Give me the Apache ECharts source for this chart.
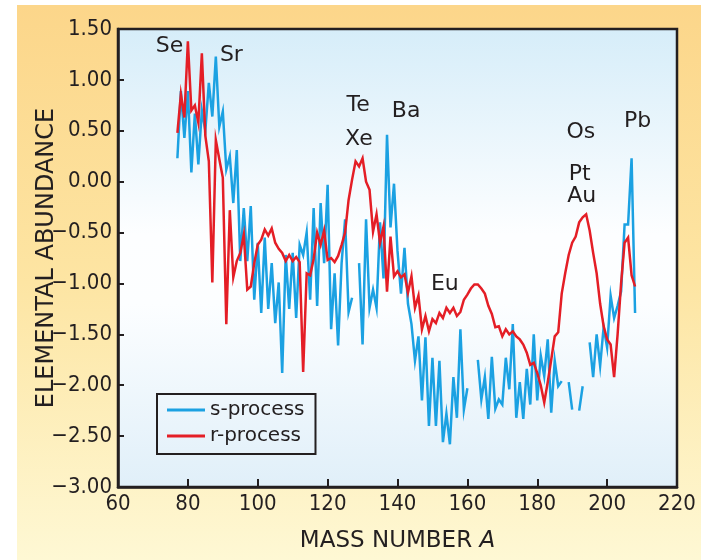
<!DOCTYPE html>
<html>
<head>
<meta charset="utf-8">
<script src="https://cdn.jsdelivr.net/npm/echarts@6/dist/echarts.min.js"></script>
<style>
html,body{margin:0;padding:0;background:#fff;}
#wrap{position:relative;width:701px;height:560px;overflow:hidden;background:#fff;}
#bg{position:absolute;left:17px;top:5px;right:0;bottom:0;background:linear-gradient(to bottom,#fcd68a 0%,#fde5a3 50%,#fef8d4 100%);}
#chart{position:absolute;left:0;top:0;width:701px;height:560px;}
</style>
</head>
<body>
<div id="wrap"><div id="bg"></div><div id="chart"></div></div>
<script>
// Mass numbers A = 77 ... 208 (one point per mass number)
const massNumbers = [];
for (let a = 77; a <= 208; a++) massNumbers.push(a);

// s-process abundances (null = no data, gap in line)
const sProcess = [
  0.23, 0.89, 0.43, 0.89, 0.09, 0.67, 0.17, 0.70, 0.50, 0.97,      // 77-86
  0.64, 1.23, 0.54, 0.69, 0.12, 0.25, -0.21, 0.31, -0.78, -0.26,   // 87-96
  -0.78, -0.24, -1.16, -0.60, -1.29, -0.55, -1.25, -0.80, -1.39, -0.99, // 97-106
  -1.88, -0.72, -1.25, -0.70, -1.34, -0.62, -0.72, -0.50, -1.16, -0.26, // 107-116
  -1.22, -0.21, -0.80, -0.03, -1.45, -0.90, -1.61, -0.80, -0.37, -1.28, // 117-126
  -1.14, null, -0.80, -1.60, -0.37, -1.24, -1.06, -1.24, -0.40, -0.95,  // 127-136
  0.46, -0.45, -0.02, -0.68, -1.10, -0.65, -1.20, -1.40, -1.76, -1.52,  // 137-146
  -2.15, -1.53, -2.40, -1.73, -2.40, -1.76, -2.56, -2.28, -2.58, -1.92, // 147-156
  -2.32, -1.45, -2.24, -2.03, null, null, -1.75, -2.14, -1.92, -2.33,   // 157-166
  -1.72, -2.23, -2.14, -2.19, -1.73, -2.04, -1.40, -2.32, -1.97, -2.33, // 167-176
  -1.84, -2.19, -1.50, -2.15, -1.71, -1.91, -1.55, -2.27, -1.76, -2.01, // 177-186
  -1.96, null, -1.97, -2.24, null, -2.25, -2.01, null, -1.58, -1.92,    // 187-196
  -1.50, -1.81, -1.43, -1.63, -1.12, -1.34, -1.22, -1.08, -0.42, -0.42, // 197-206
  0.23, -1.29                                                           // 207-208
];

// r-process abundances
const rProcess = [
  0.48, 0.86, 0.63, 1.38, 0.70, 0.75, 0.58, 1.26, 0.45, 0.20,          // 77-86
  -0.99, 0.41, 0.22, 0.04, -1.40, -0.28, -0.94, -0.78, -0.70, -0.52,   // 87-96
  -1.06, -1.03, -0.80, -0.62, -0.57, -0.47, -0.53, -0.46, -0.60, -0.66, // 97-106
  -0.70, -0.78, -0.72, -0.78, -0.74, -0.79, -1.87, -0.90, -0.92, -0.76, // 107-116
  -0.50, -0.62, -0.48, -0.77, -0.75, -0.79, -0.73, -0.62, -0.50, -0.18, // 117-126
  0.02, 0.20, 0.15, 0.23, 0.00, -0.08, -0.49, -0.32, -0.60, -0.44,     // 127-136
  -1.08, -0.54, -0.93, -0.88, -0.94, -0.91, -1.09, -0.93, -1.24, -1.12, // 137-146
  -1.45, -1.32, -1.47, -1.35, -1.39, -1.29, -1.34, -1.24, -1.29, -1.24, // 147-156
  -1.32, -1.28, -1.16, -1.11, -1.05, -1.01, -1.01, -1.05, -1.10, -1.22, // 157-166
  -1.30, -1.43, -1.42, -1.52, -1.45, -1.50, -1.47, -1.52, -1.55, -1.60, // 167-176
  -1.68, -1.80, -1.78, -1.88, -2.00, -2.17, -1.97, -1.75, -1.52, -1.48, // 177-186
  -1.10, -0.90, -0.72, -0.60, -0.54, -0.40, -0.35, -0.32, -0.48, -0.70, // 187-196
  -0.90, -1.20, -1.42, -1.55, -1.60, -1.92, -1.50, -1.00, -0.60, -0.55, // 197-206
  -0.92, -1.03                                                          // 207-208
];

// Element annotations (label anchor in data coordinates)
const elementNames = ['Se', 'Sr', 'Te', 'Xe', 'Ba', 'Eu', 'Os', 'Pt', 'Au', 'Pb'];
const elementA     = [74.9, 92.6, 128.9, 129.1, 142.6, 153.7, 192.6, 192.3, 192.9, 208.9];
const elementV     = [1.33, 1.235, 0.745, 0.41, 0.69, -1.01, 0.48, 0.07, -0.15, 0.59];

const seriesNames = ['s-process', 'r-process'];
const seriesColors = ['#1ba1e2', '#e41e26'];

const xTicks = { min: 60, max: 220, interval: 20 };
const yTicks = { min: -3, max: 1.5, interval: 0.5 };

const INK = '#231f20';
const fmtY = v => (v < 0 ? '\u2212' : '') + Math.abs(v).toFixed(2);
const toPairs = vals => massNumbers.map((a, i) => [a, vals[i] === null ? '-' : vals[i]]);

const chart = echarts.init(document.getElementById('chart'), null, { renderer: 'canvas' });
chart.setOption({
  animation: false,
  backgroundColor: 'transparent',
  textStyle: { fontFamily: 'DejaVu Sans' },
  grid: {
    left: 118, right: 24, top: 29, bottom: 73,
    show: true, borderColor: INK, borderWidth: 2.5,
    backgroundColor: {
      type: 'linear', x: 0, y: 0, x2: 0, y2: 1,
      colorStops: [
        { offset: 0, color: '#d6edf9' },
        { offset: 0.45, color: '#fdfeff' },
        { offset: 0.6, color: '#fcfeff' },
        { offset: 1, color: '#e0eff9' }
      ]
    }
  },
  xAxis: {
    type: 'value', min: xTicks.min, max: xTicks.max, interval: xTicks.interval,
    axisLine: { show: true, onZero: false, lineStyle: { color: INK, width: 2.5 } },
    axisTick: { show: true, inside: true, length: 8, lineStyle: { color: INK, width: 2 } },
    splitLine: { show: false },
    axisLabel: { color: INK, fontFamily: 'DejaVu Sans Condensed, DejaVu Sans', fontSize: 22, margin: 6, showMinLabel: true, showMaxLabel: true },
    name: 'MASS NUMBER {i|A}', nameLocation: 'middle', nameGap: 43,
    nameTextStyle: {
      color: INK, fontSize: 23, fontFamily: 'DejaVu Sans',
      rich: { i: { fontStyle: 'italic', fontSize: 23, fontFamily: 'DejaVu Sans', color: INK } }
    }
  },
  yAxis: {
    type: 'value', min: yTicks.min, max: yTicks.max, interval: yTicks.interval,
    axisLine: { show: true, onZero: false, lineStyle: { color: INK, width: 2.5 } },
    axisTick: { show: true, inside: true, length: 6, lineStyle: { color: INK, width: 2 } },
    splitLine: { show: false },
    axisLabel: { color: INK, fontFamily: 'DejaVu Sans Condensed, DejaVu Sans', fontSize: 22, margin: 6, formatter: fmtY, showMinLabel: true, showMaxLabel: true },
    name: 'ELEMENTAL ABUNDANCE', nameLocation: 'middle', nameGap: 59, nameMoveOverlap: false,
    nameTextStyle: { color: INK, fontSize: 24, fontFamily: 'DejaVu Sans' }
  },
  legend: {
    data: seriesNames, orient: 'vertical', left: 157, top: 394,
    icon: 'rect', itemWidth: 38, itemHeight: 3, itemGap: 6,
    padding: [6, 11, 8, 10],
    borderColor: INK, borderWidth: 2, backgroundColor: 'transparent',
    textStyle: { fontSize: 20, color: INK, fontFamily: 'DejaVu Sans' }
  },
  series: [
    {
      name: seriesNames[0], type: 'line', data: toPairs(sProcess),
      showSymbol: false, symbol: 'none', connectNulls: false,
      lineStyle: { color: seriesColors[0], width: 2.5, join: 'miter' },
      itemStyle: { color: seriesColors[0] }, z: 3
    },
    {
      name: seriesNames[1], type: 'line', data: toPairs(rProcess),
      showSymbol: false, symbol: 'none', connectNulls: false,
      lineStyle: { color: seriesColors[1], width: 2.5, join: 'miter' },
      itemStyle: { color: seriesColors[1] }, z: 4
    },
    {
      name: 'elements', type: 'scatter', silent: true, symbolSize: 1,
      itemStyle: { color: 'rgba(0,0,0,0)' },
      data: elementNames.map((n, i) => ({ name: n, value: [elementA[i], elementV[i]] })),
      label: {
        show: true, position: [0, 0], align: 'center', verticalAlign: 'middle',
        formatter: '{b}', color: INK, opacity: 1, textBorderWidth: 0,
        fontSize: 22, fontFamily: 'DejaVu Sans'
      },
      z: 5
    }
  ]
});
</script>
</body>
</html>
